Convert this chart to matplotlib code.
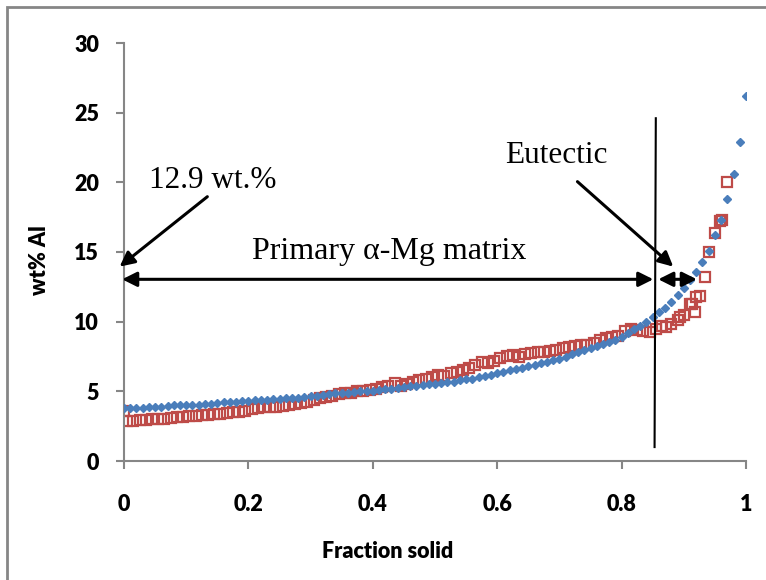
import numpy as np
import matplotlib
matplotlib.use('Agg')
import matplotlib.pyplot as plt
from matplotlib.patches import Rectangle

# Datos
# Serie azul (diamantes): fraccion solida 0..1 cada 0.01
frac_azul = np.round(np.arange(0, 1.001, 0.01), 2)
al_azul = [3.8, 3.8, 3.8, 3.8, 3.85, 3.9, 3.9, 3.95, 4.0, 4.0, 4.0,
           4.05, 4.05, 4.1, 4.1, 4.15, 4.2, 4.2, 4.25, 4.3, 4.3,
           4.35, 4.35, 4.4, 4.45, 4.45, 4.5, 4.55, 4.55, 4.6, 4.65,
           4.7, 4.75, 4.8, 4.85, 4.85, 4.9, 4.95, 5.0, 5.0, 5.05,
           5.1, 5.15, 5.2, 5.25, 5.3, 5.35, 5.4, 5.45, 5.5, 5.55,
           5.6, 5.65, 5.7, 5.8, 5.85, 5.9, 6.0, 6.1, 6.2, 6.3,
           6.4, 6.5, 6.6, 6.7, 6.8, 6.9, 7.0, 7.1, 7.25, 7.35,
           7.5, 7.65, 7.8, 7.95, 8.1, 8.25, 8.4, 8.55, 8.7, 8.9,
           9.2, 9.45, 9.7, 10.0, 10.3, 10.7, 11.0, 11.4, 11.9, 12.4,
           13.0, 13.6, 14.3, 15.1, 16.2, 17.3, 18.8, 20.6, 22.9, 26.2]

# Serie roja (cuadrados vacios)
frac_roja = [0.0, 0.005, 0.015, 0.025, 0.035, 0.045, 0.055, 0.065, 0.075, 0.085,
             0.095, 0.105, 0.115, 0.125, 0.135, 0.145, 0.155, 0.165, 0.175, 0.185,
             0.195, 0.205, 0.215, 0.225, 0.235, 0.245, 0.255, 0.265, 0.275, 0.285,
             0.295, 0.305, 0.315, 0.325, 0.335, 0.345, 0.355, 0.365, 0.375, 0.385,
             0.395, 0.405, 0.415, 0.425, 0.435, 0.445, 0.455, 0.465, 0.475, 0.485,
             0.495, 0.505, 0.515, 0.525, 0.535, 0.545, 0.555, 0.565, 0.575, 0.585,
             0.595, 0.605, 0.615, 0.625, 0.635, 0.645, 0.655, 0.665, 0.675, 0.685,
             0.695, 0.705, 0.715, 0.725, 0.735, 0.745, 0.755, 0.765, 0.775, 0.785,
             0.795, 0.805, 0.815, 0.825, 0.835, 0.845, 0.855, 0.865, 0.872, 0.88,
             0.89, 0.894, 0.90, 0.91, 0.913, 0.918, 0.92, 0.926, 0.934, 0.94,
             0.95, 0.958, 0.962, 0.969]
al_roja = [3.6, 2.9, 2.9, 2.95, 2.95, 3.0, 3.0, 3.05, 3.1, 3.15,
           3.15, 3.2, 3.25, 3.3, 3.3, 3.35, 3.4, 3.45, 3.5, 3.55,
           3.6, 3.7, 3.8, 3.85, 3.9, 3.85, 3.95, 4.0, 4.1, 4.15,
           4.2, 4.35, 4.5, 4.6, 4.7, 4.8, 4.85, 4.9, 5.0, 5.05,
           5.1, 5.2, 5.3, 5.4, 5.6, 5.35, 5.5, 5.7, 5.8, 5.9,
           6.0, 6.2, 6.1, 6.3, 6.4, 6.5, 6.7, 6.9, 7.1, 7.05,
           7.2, 7.4, 7.55, 7.6, 7.5, 7.7, 7.75, 7.85, 7.8, 7.9,
           7.95, 8.1, 8.2, 8.25, 8.3, 8.35, 8.5, 8.7, 8.8, 8.9,
           9.0, 9.3, 9.45, 9.4, 9.3, 9.25, 9.5, 9.7, 9.6, 9.8,
           10.1, 10.35, 10.5, 11.3, 11.3, 10.7, 11.75, 11.85, 13.2, 15.0,
           16.35, 17.2, 17.3, 20.05]

x_ticks = [0, 0.2, 0.4, 0.6, 0.8, 1]
x_tick_labels = ['0', '0.2', '0.4', '0.6', '0.8', '1']
y_ticks = [0, 5, 10, 15, 20, 25, 30]

fig = plt.figure(figsize=(7.66, 5.8), dpi=100)
ax = fig.add_axes([124 / 766, 119 / 580, 622 / 766, 418 / 580])

ax.plot(frac_azul, al_azul, linestyle='none', marker='D', markersize=4.4,
        color='#4A7EBB', zorder=3)
ax.plot(frac_roja, al_roja, linestyle='none', marker='s', markersize=7.2,
        markerfacecolor='none', markeredgecolor='#BE4B48', markeredgewidth=1.6, zorder=2)

ax.set_xlim(0, 1)
ax.set_ylim(0, 30)
ax.set_xticks(x_ticks)
ax.set_xticklabels(x_tick_labels)
ax.set_yticks(y_ticks)

gris = '#868686'
for lado in ['top', 'right']:
    ax.spines[lado].set_visible(False)
for lado in ['left', 'bottom']:
    ax.spines[lado].set_color(gris)
    ax.spines[lado].set_linewidth(1.5)
    ax.spines[lado].set_clip_on(False)
ax.tick_params(direction='out', length=6, width=1.5, color=gris)
ax.tick_params(axis='y', pad=12)
ax.tick_params(axis='x', pad=18)
for lbl in ax.get_xticklabels() + ax.get_yticklabels():
    lbl.set_fontfamily('Lato')
    lbl.set_fontweight('heavy')
    lbl.set_fontsize(15.5)

fig.text(40 / 766, 1 - 260 / 580, 'wt% Al', rotation=90, ha='center', va='center',
         fontsize=15.5, fontweight='heavy', family='Lato')
fig.text(388 / 766, 1 - 551 / 580, 'Fraction solid', ha='center', va='center',
         fontsize=15.5, fontweight='heavy', family='Lato')

# Anotaciones
serif = 'Liberation Serif'
flecha = dict(arrowstyle='-|>', color='black', lw=2.2, mutation_scale=22, shrinkA=0, shrinkB=0)
flecha2 = dict(arrowstyle='<|-|>', color='black', lw=2.2, mutation_scale=22, shrinkA=0, shrinkB=0)

ax.annotate('', xy=(-0.007, 13.95), xytext=(0.134, 18.97), arrowprops=flecha,
            annotation_clip=False)
ax.text(0.143, 20.1, '12.9 wt.%', fontsize=22.5, family=serif, ha='center', va='center')

ax.annotate('', xy=(-0.003, 13.04), xytext=(0.851, 13.04), arrowprops=flecha2,
            annotation_clip=False)
ax.text(0.426, 15.0, 'Primary α-Mg matrix', fontsize=23, family=serif, ha='center', va='center')

ax.annotate('', xy=(0.859, 13.04), xytext=(0.921, 13.04), arrowprops=flecha2)
ax.annotate('', xy=(0.883, 13.95), xytext=(0.729, 20.05), arrowprops=flecha)
ax.text(0.695, 21.9, 'Eutectic', fontsize=22.5, family=serif, ha='center', va='center')

ax.plot([0.855, 0.853], [24.6, 1.0], color='black', lw=1.5, zorder=4)

# Marco gris de la figura
fig.patches.append(Rectangle((7 / 766, -0.1), 1.2, 1 - 7 / 580 + 0.1,
                             transform=fig.transFigure, fill=False,
                             edgecolor=gris, linewidth=2))

fig.savefig('out.png', dpi=100)
